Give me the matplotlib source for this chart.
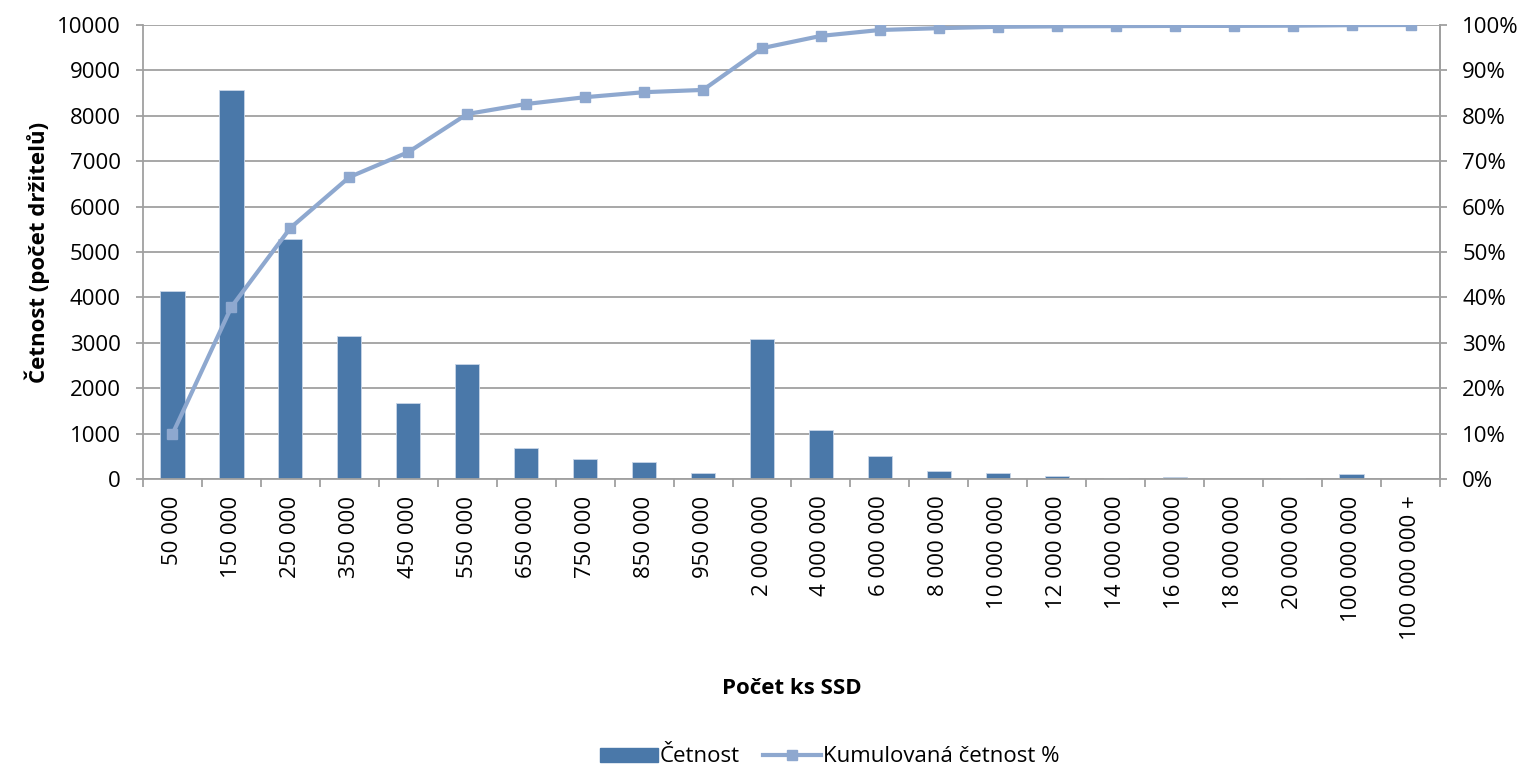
import matplotlib
matplotlib.use("Agg")
import matplotlib.pyplot as plt
import numpy as np
from matplotlib.lines import Line2D
from matplotlib.patches import Patch
from matplotlib.ticker import FixedLocator, PercentFormatter

categories = ["50 000", "150 000", "250 000", "350 000", "450 000", "550 000",
              "650 000", "750 000", "850 000", "950 000", "2 000 000", "4 000 000",
              "6 000 000", "8 000 000", "10 000 000", "12 000 000", "14 000 000",
              "16 000 000", "18 000 000", "20 000 000", "100 000 000", "100 000 000 +"]
cetnost = [4150, 8570, 5280, 3150, 1680, 2530, 690, 440, 375, 140, 3090, 1086,
           507, 180, 140, 75, 30, 35, 10, 25, 100, 5]
kumul = [9.9, 37.9, 55.3, 66.5, 72.0, 80.4, 82.6, 84.1, 85.2, 85.7, 94.9, 97.6,
         98.9, 99.3, 99.6, 99.7, 99.75, 99.8, 99.8, 99.85, 99.97, 100.0]

plt.rcParams['font.family'] = ['Open Sans', 'DejaVu Sans']
FS = 16
bar_col = '#4A78A9'
line_col = '#8EA8CF'
grid_col = '#A0A0A0'

fig = plt.figure(figsize=(15.27, 7.69), dpi=100)
ax = fig.add_axes([143/1527, 1-479/769, (1440-143)/1527, (479-25)/769])
x = np.arange(len(categories))
ax.bar(x, cetnost, width=0.41, color=bar_col, edgecolor='#C9D6E8', linewidth=0.6, zorder=2)
ax.set_xlim(-0.5, len(categories)-0.5)
ax.set_ylim(0, 10000)
ax.set_yticks(np.arange(0, 10001, 1000))
ax.yaxis.grid(True, color=grid_col, linewidth=1.3, zorder=0)
ax.set_axisbelow(True)
ax.set_xticks(x)
ax.set_xticklabels(categories, rotation=90, fontsize=FS)
ax.xaxis.set_minor_locator(FixedLocator(np.arange(-0.5, len(categories), 1)))
ax.tick_params(axis='x', which='major', length=0, pad=12)
ax.tick_params(axis='x', which='minor', length=6, width=1.3, color=grid_col, direction='out')
ax.tick_params(axis='y', length=5, width=1.3, color=grid_col, labelsize=FS, pad=11)
ax.spines['top'].set_visible(False)
for s in ['left', 'right', 'bottom']:
    ax.spines[s].set_color(grid_col)
    ax.spines[s].set_linewidth(1.3)
ax.set_ylabel('Četnost (počet držitelů)', fontsize=FS, fontweight='bold', labelpad=5)
ax.set_xlabel('Počet ks SSD', fontsize=FS, fontweight='bold', va='center')
ax.xaxis.set_label_coords(0.5, ((769-688)/769 - (1-479/769)) / ((479-25)/769))

ax2 = ax.twinx()
ax2.plot(x, kumul, color=line_col, linewidth=3.0, marker='s', markersize=7.5,
         markerfacecolor=line_col, markeredgecolor=line_col, zorder=3)
ax2.set_ylim(0, 100)
ax2.set_yticks(np.arange(0, 101, 10))
ax2.yaxis.set_major_formatter(PercentFormatter(decimals=0))
ax2.tick_params(axis='y', length=5, width=1.3, color=grid_col, labelsize=FS, pad=11)
for s in ['top', 'left', 'bottom']:
    ax2.spines[s].set_visible(False)
ax2.spines['right'].set_color(grid_col)
ax2.spines['right'].set_linewidth(1.3)

handles = [Patch(facecolor=bar_col, edgecolor=bar_col),
           Line2D([0], [0], color=line_col, linewidth=3.0, marker='s', markersize=7.5)]
fig.legend(handles, ['Četnost', 'Kumulovaná četnost %'], loc='center',
           bbox_to_anchor=(830/1527, 1-757/769), ncol=2, frameon=False, fontsize=FS,
           handlelength=2.6, handleheight=0.6, columnspacing=1.05, handletextpad=0.1)

fig.savefig('out.png', dpi=100)
